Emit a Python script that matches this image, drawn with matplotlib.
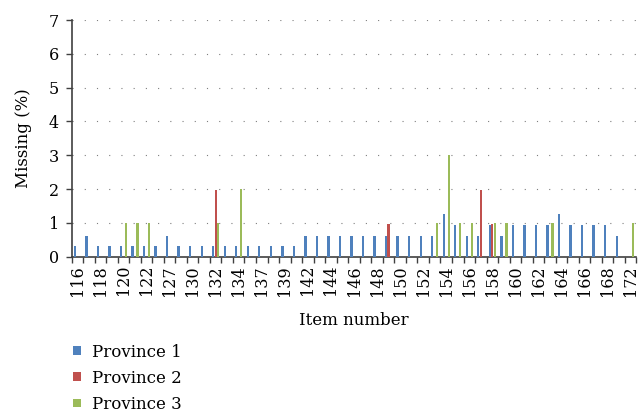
import numpy as np

import matplotlib
matplotlib.use("Agg")
import matplotlib.pyplot as plt
from matplotlib.ticker import FixedLocator, NullFormatter


items = (
    [116, 117, 118, 119, 120, 121, 122, 125, 127, 128, 130, 131, 132, 133,
     134, 135, 137, 138, 139, 140]
    + list(range(142, 169))
    + [170, 172]
)

province_1 = (
    [0.31, 0.62, 0.31, 0.31, 0.31, 0.31, 0.31, 0.31, 0.62, 0.31,
     0.31, 0.31, 0.31, 0.31, 0.31, 0.31, 0.31, 0.31, 0.31, 0.31]
    + [0.62] * 12
    + [1.25, 0.94, 0.62, 0.62, 0.94, 0.62, 0.94, 0.94, 0.94, 0.94,
       1.25, 0.94, 0.94, 0.94, 0.94, 0.62, 0.0]
)

# NOTE: only a few items have non-zero values for provinces 2 and 3
province_2_values = {132: 1.96, 149: 0.98, 157: 1.96, 158: 0.98}
province_3_values = {
    120: 1.0, 121: 1.0, 122: 1.0, 132: 1.0, 134: 2.0, 153: 1.0, 154: 3.0,
    155: 1.0, 156: 1.0, 158: 1.0, 159: 1.0, 163: 1.0, 172: 1.0,
}

province_2 = [province_2_values.get(i, 0.0) for i in items]
province_3 = [province_3_values.get(i, 0.0) for i in items]

series_names = ["Province 1", "Province 2", "Province 3"]
series_colors = ["#4F81BD", "#C0504D", "#9BBB59"]


plt.rcParams["font.family"] = ["DejaVu Serif"]

fig = plt.figure(figsize=(6.39, 4.17), dpi=100)
ax = fig.add_axes([0.112, 0.3845, 0.884, 0.5675])

x = np.arange(len(items))
offset = 0.215
width = 0.2

for k, (values, name, color) in enumerate(
    zip([province_1, province_2, province_3], series_names, series_colors)
):
    ax.bar(
        x + (k - 1) * offset,
        values,
        width=width,
        color=color,
        label=name,
        zorder=3,
    )

ax.set_xlim(-0.5, len(items) - 0.5)
ax.set_ylim(0, 7)
ax.set_yticks(range(0, 8))

# NOTE: dotted horizontal gridlines
for yv in range(1, 8):
    ax.axhline(
        yv, color="#7f7f7f", linewidth=0.8,
        linestyle=(0, (1, 10)), zorder=1
    )

ax.xaxis.set_major_locator(FixedLocator(x[::2]))
ax.set_xticklabels([str(i) for i in items[::2]], rotation=90, fontsize=11.5)
ax.xaxis.set_minor_locator(FixedLocator(np.arange(len(items) + 1) - 0.5))
ax.xaxis.set_minor_formatter(NullFormatter())
ax.tick_params(axis="x", which="major", length=0, pad=6)
ax.tick_params(axis="x", which="minor", length=4, width=1, color="#404040")
ax.tick_params(axis="y", length=4, width=1, color="#404040", labelsize=11.5, pad=5)

for side in ["top", "right"]:
    ax.spines[side].set_visible(False)
for side in ["left", "bottom"]:
    ax.spines[side].set_color("#404040")
    ax.spines[side].set_linewidth(1.2)

ax.set_ylabel("Missing (%)", fontsize=12, labelpad=12)
ax.set_xlabel("Item number", fontsize=12, labelpad=12)

legend = fig.legend(
    loc="upper left",
    bbox_to_anchor=(0.091, 0.212),
    frameon=False,
    fontsize=12,
    handlelength=0.45,
    handleheight=0.45,
    handletextpad=0.7,
    labelspacing=0.55,
)

fig.savefig("out.png", dpi=100)
